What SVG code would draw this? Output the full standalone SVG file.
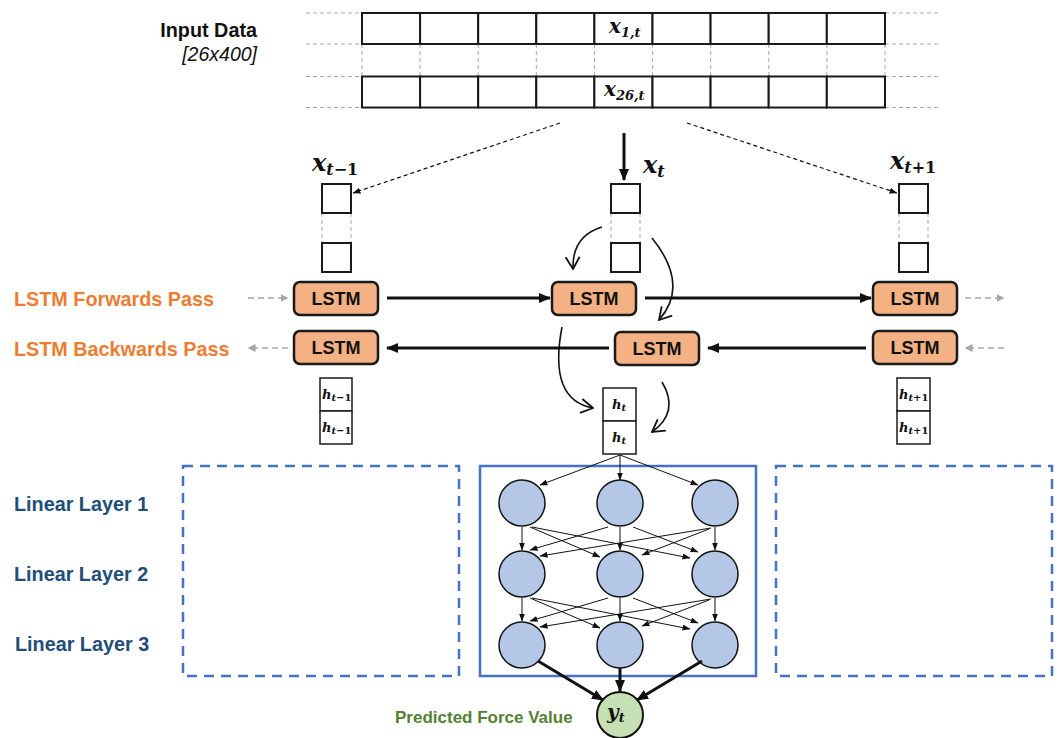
<svg xmlns="http://www.w3.org/2000/svg" width="1059" height="738" viewBox="0 0 1059 738">
  <style>
    .bg{fill:#ffffff}
    .cell{fill:#ffffff;stroke:#1a1a1a;stroke-width:2}
    .guide{stroke:#a6a6a6;stroke-width:1;stroke-dasharray:4 3;fill:none}
    .lstm{fill:#f4b183;stroke:#1a1a1a;stroke-width:2.5}
    .lstmtxt{font-family:"Liberation Sans",Arial,sans-serif;font-weight:bold;font-size:18px;fill:#111;text-anchor:middle}
    .lbl{font-family:"Liberation Sans",Arial,sans-serif;font-weight:bold;font-size:19.8px}
    .orange{fill:#ed7d31}
    .navy{fill:#1f4e79}
    .green{fill:#548235}
    .math{font-family:"DejaVu Serif","Liberation Serif",serif;font-weight:bold;font-style:italic;fill:#111}
    .up{font-style:normal}
    .hbox{fill:#ffffff;stroke:#1a1a1a;stroke-width:1.5}
    .thick{stroke:#111;stroke-width:3;fill:none}
    .thin{stroke:#111;stroke-width:1;fill:none}
    .dashin{stroke:#111;stroke-width:1.2;stroke-dasharray:4 3;fill:none}
    .grey{stroke:#a6a6a6;stroke-width:1.5;stroke-dasharray:6 4;fill:none}
    .curve{stroke:#111;stroke-width:1.6;fill:none}
    .neuron{fill:#b4c7e7;stroke:#111;stroke-width:1.5}
    .panel{fill:none;stroke:#4472c4;stroke-width:2.5}
    .panelDash{fill:none;stroke:#4472c4;stroke-width:2.5;stroke-dasharray:10 7}
  </style>
  <defs>
    <marker id="headBig" viewBox="0 0 12 10" refX="11" refY="5" markerWidth="12" markerHeight="10" markerUnits="userSpaceOnUse" orient="auto">
      <path d="M0,0 L12,5 L0,10 z" fill="#111"/>
    </marker>
    <marker id="headSmall" viewBox="0 0 8 6" refX="7.5" refY="3" markerWidth="8" markerHeight="6" markerUnits="userSpaceOnUse" orient="auto">
      <path d="M0,0 L8,3 L0,6 z" fill="#111"/>
    </marker>
    <marker id="headGrey" viewBox="0 0 8 8" refX="7.5" refY="4" markerWidth="8" markerHeight="8" markerUnits="userSpaceOnUse" orient="auto">
      <path d="M0,0 L8,4 L0,8 z" fill="#a6a6a6"/>
    </marker>
    <marker id="headOpen" viewBox="0 0 14 16" refX="13" refY="8" markerWidth="14" markerHeight="16" markerUnits="userSpaceOnUse" orient="auto">
      <path d="M1,1 L13,8 L1,15" fill="none" stroke="#111" stroke-width="1.8"/>
    </marker>
  </defs>

  <rect class="bg" x="0" y="0" width="1059" height="738"/>

  <!-- input matrix -->
  <g id="input-data">
    <text class="lbl" x="257" y="37" text-anchor="end" fill="#111">Input Data</text>
    <text x="257" y="61" text-anchor="end" font-family="'Liberation Sans',Arial,sans-serif" font-style="italic" font-size="19.5" fill="#111">[26x400]</text>
    <g class="guide">
      <path d="M306,13H362M306,44H362M306,76.5H362M306,107.5H362"/>
      <path d="M885,13H940M885,44H940M885,76.5H940M885,107.5H940"/>
      <path d="M362,44V76.5M420.1,44V76.5M478.2,44V76.5M536.3,44V76.5M594.4,44V76.5M652.6,44V76.5M710.7,44V76.5M768.8,44V76.5M826.9,44V76.5M885,44V76.5"/>
    </g>
    <g class="cell">
      <rect x="362" y="13" width="58.1" height="31"/>
      <rect x="420.1" y="13" width="58.1" height="31"/>
      <rect x="478.2" y="13" width="58.1" height="31"/>
      <rect x="536.3" y="13" width="58.1" height="31"/>
      <rect x="594.4" y="13" width="58.1" height="31"/>
      <rect x="652.5" y="13" width="58.1" height="31"/>
      <rect x="710.6" y="13" width="58.1" height="31"/>
      <rect x="768.7" y="13" width="58.1" height="31"/>
      <rect x="826.8" y="13" width="58.2" height="31"/>
      <rect x="362" y="76.5" width="58.1" height="31"/>
      <rect x="420.1" y="76.5" width="58.1" height="31"/>
      <rect x="478.2" y="76.5" width="58.1" height="31"/>
      <rect x="536.3" y="76.5" width="58.1" height="31"/>
      <rect x="594.4" y="76.5" width="58.1" height="31"/>
      <rect x="652.5" y="76.5" width="58.1" height="31"/>
      <rect x="710.6" y="76.5" width="58.1" height="31"/>
      <rect x="768.7" y="76.5" width="58.1" height="31"/>
      <rect x="826.8" y="76.5" width="58.2" height="31"/>
    </g>
    <text class="math" x="609" y="33" font-size="20">x<tspan font-size="13" dy="4">1,t</tspan></text>
    <text class="math" x="604" y="96" font-size="20">x<tspan font-size="13" dy="4">26,t</tspan></text>
  </g>

  <!-- input vectors per time step -->
  <g id="x-prev">
    <text class="math" x="312" y="171" font-size="24">x<tspan font-size="16" dy="4">t<tspan class="up">−1</tspan></tspan></text>
    <path class="guide" d="M322,213V243M351,213V243"/>
    <rect class="cell" x="322" y="184" width="29" height="29"/>
    <rect class="cell" x="322" y="243" width="29" height="29"/>
  </g>
  <g id="x-curr">
    <text class="math" x="643" y="173" font-size="24">x<tspan font-size="16" dy="4">t</tspan></text>
    <path class="guide" d="M611,213V243M640,213V243"/>
    <rect class="cell" x="611" y="184" width="29" height="29"/>
    <rect class="cell" x="611" y="243" width="29" height="29"/>
  </g>
  <g id="x-next">
    <text class="math" x="890" y="169" font-size="24">x<tspan font-size="16" dy="4">t<tspan class="up">+1</tspan></tspan></text>
    <path class="guide" d="M899,213V243M928,213V243"/>
    <rect class="cell" x="899" y="184" width="29" height="29"/>
    <rect class="cell" x="899" y="243" width="29" height="29"/>
  </g>

  <!-- LSTM cells -->
  <g id="lstm-fwd-prev"><rect class="lstm" x="294" y="282" width="84" height="33" rx="6"/><text class="lstmtxt" x="336" y="305">LSTM</text></g>
  <g id="lstm-bwd-prev"><rect class="lstm" x="294" y="331" width="84" height="33" rx="6"/><text class="lstmtxt" x="336" y="354">LSTM</text></g>
  <g id="lstm-fwd-curr"><rect class="lstm" x="552" y="282" width="84" height="33" rx="6"/><text class="lstmtxt" x="594" y="305">LSTM</text></g>
  <g id="lstm-bwd-curr"><rect class="lstm" x="615" y="332" width="84" height="33" rx="6"/><text class="lstmtxt" x="657" y="355">LSTM</text></g>
  <g id="lstm-fwd-next"><rect class="lstm" x="873" y="282" width="84" height="33" rx="6"/><text class="lstmtxt" x="915" y="305">LSTM</text></g>
  <g id="lstm-bwd-next"><rect class="lstm" x="873" y="331" width="84" height="33" rx="6"/><text class="lstmtxt" x="915" y="354">LSTM</text></g>

  <!-- row labels -->
  <g id="labels">
    <text class="lbl orange" x="14" y="306">LSTM Forwards Pass</text>
    <text class="lbl orange" x="14" y="356">LSTM Backwards Pass</text>
    <text class="lbl navy" x="14" y="511">Linear Layer 1</text>
    <text class="lbl navy" x="14" y="581">Linear Layer 2</text>
    <text class="lbl navy" x="15" y="651">Linear Layer 3</text>
  </g>

  <!-- hidden states -->
  <g id="h-prev">
    <rect class="hbox" x="320" y="378" width="32" height="33"/>
    <rect class="hbox" x="320" y="411" width="32" height="33"/>
    <text class="math" x="322" y="399" font-size="13">h<tspan font-size="10" dy="2">t<tspan class="up">−1</tspan></tspan></text>
    <text class="math" x="322" y="432" font-size="13">h<tspan font-size="10" dy="2">t<tspan class="up">−1</tspan></tspan></text>
  </g>
  <g id="h-curr">
    <rect class="hbox" x="603" y="388" width="33" height="33"/>
    <rect class="hbox" x="603" y="421" width="33" height="33"/>
    <text class="math" x="612" y="409" font-size="13">h<tspan font-size="10" dy="2">t</tspan></text>
    <text class="math" x="612" y="442" font-size="13">h<tspan font-size="10" dy="2">t</tspan></text>
  </g>
  <g id="h-next">
    <rect class="hbox" x="897" y="378" width="33" height="33"/>
    <rect class="hbox" x="897" y="411" width="33" height="33"/>
    <text class="math" x="899" y="399" font-size="13">h<tspan font-size="10" dy="2">t<tspan class="up">+1</tspan></tspan></text>
    <text class="math" x="899" y="432" font-size="13">h<tspan font-size="10" dy="2">t<tspan class="up">+1</tspan></tspan></text>
  </g>

  <!-- dense-layer panels -->
  <g id="panel-prev"><rect class="panelDash" x="183" y="466" width="276" height="210"/></g>
  <g id="panel-curr"><rect class="panel" x="480" y="466" width="276" height="210"/></g>
  <g id="panel-next"><rect class="panelDash" x="776" y="466" width="276" height="210"/></g>

  <!-- neurons -->
  <g id="layer1">
    <circle class="neuron" cx="522" cy="503" r="23"/>
    <circle class="neuron" cx="620" cy="503" r="23"/>
    <circle class="neuron" cx="715" cy="503" r="23"/>
  </g>
  <g id="layer2">
    <circle class="neuron" cx="522" cy="574" r="23"/>
    <circle class="neuron" cx="620" cy="574" r="23"/>
    <circle class="neuron" cx="715" cy="574" r="23"/>
  </g>
  <g id="layer3">
    <circle class="neuron" cx="522" cy="645" r="23"/>
    <circle class="neuron" cx="620" cy="645" r="23"/>
    <circle class="neuron" cx="715" cy="645" r="23"/>
  </g>

  <!-- output -->
  <g id="output">
    <circle cx="620" cy="715" r="23" fill="#c5e0b4" stroke="#111" stroke-width="2"/>
    <text class="math" x="607" y="719" font-size="20" font-weight="normal">y<tspan font-size="13" dy="3">t</tspan></text>
    <text x="395" y="723" font-family="'Liberation Sans',Arial,sans-serif" font-weight="bold" font-size="17" class="green">Predicted Force Value</text>
  </g>

  <!-- connectors -->
  <g id="connectors">
    <!-- input to time steps -->
    <path class="dashin" d="M560,123L353,193" marker-end="url(#headSmall)"/>
    <path class="dashin" d="M687,123L897,193" marker-end="url(#headSmall)"/>
    <path class="thick" d="M624,133V180" marker-end="url(#headBig)"/>

    <!-- recurrent links -->
    <path class="thick" d="M387,298H550" marker-end="url(#headBig)"/>
    <path class="thick" d="M645,298H871" marker-end="url(#headBig)"/>
    <path class="thick" d="M866,348H708" marker-end="url(#headBig)"/>
    <path class="thick" d="M609,348H387" marker-end="url(#headBig)"/>

    <!-- sequence continuation -->
    <path class="grey" d="M248,298H288" marker-end="url(#headGrey)"/>
    <path class="grey" d="M288,348H248" marker-end="url(#headGrey)"/>
    <path class="grey" d="M965,298H1004" marker-end="url(#headGrey)"/>
    <path class="grey" d="M1004,348H965" marker-end="url(#headGrey)"/>

    <!-- input and hidden-state flow at step t -->
    <path class="curve" d="M602,227Q572,236 573,269" marker-end="url(#headOpen)"/>
    <path class="curve" d="M652,238Q690,285 659,320" marker-end="url(#headOpen)"/>
    <path class="curve" d="M562,327Q548,400 593,408" marker-end="url(#headOpen)"/>
    <path class="curve" d="M662,382Q680,412 652,432" marker-end="url(#headOpen)"/>

    <!-- hidden state to first layer -->
    <path class="thin" d="M620,455L540,485" marker-end="url(#headSmall)"/>
    <path class="thin" d="M620,455V480" marker-end="url(#headSmall)"/>
    <path class="thin" d="M620,455L698,485" marker-end="url(#headSmall)"/>

    <!-- layer 1 to layer 2 -->
    <path class="thin" d="M522,527V550" marker-end="url(#headSmall)"/>
    <path class="thin" d="M530,527L600,557" marker-end="url(#headSmall)"/>
    <path class="thin" d="M532,527L690,558" marker-end="url(#headSmall)"/>
    <path class="thin" d="M620,527V550" marker-end="url(#headSmall)"/>
    <path class="thin" d="M608,527L530,550" marker-end="url(#headSmall)"/>
    <path class="thin" d="M633,527L698,552" marker-end="url(#headSmall)"/>
    <path class="thin" d="M715,527V550" marker-end="url(#headSmall)"/>
    <path class="thin" d="M711,528L540,556" marker-end="url(#headSmall)"/>
    <path class="thin" d="M709,529L642,555" marker-end="url(#headSmall)"/>

    <!-- layer 2 to layer 3 -->
    <path class="thin" d="M522,598V621" marker-end="url(#headSmall)"/>
    <path class="thin" d="M530,598L600,628" marker-end="url(#headSmall)"/>
    <path class="thin" d="M532,598L690,629" marker-end="url(#headSmall)"/>
    <path class="thin" d="M620,598V621" marker-end="url(#headSmall)"/>
    <path class="thin" d="M608,598L530,621" marker-end="url(#headSmall)"/>
    <path class="thin" d="M633,598L698,623" marker-end="url(#headSmall)"/>
    <path class="thin" d="M715,598V621" marker-end="url(#headSmall)"/>
    <path class="thin" d="M711,599L540,627" marker-end="url(#headSmall)"/>
    <path class="thin" d="M709,600L642,626" marker-end="url(#headSmall)"/>

    <!-- layer 3 to output -->
    <path class="thick" d="M538,661L603,700" marker-end="url(#headBig)"/>
    <path class="thick" d="M620,668V691" marker-end="url(#headBig)"/>
    <path class="thick" d="M702,661L637,700" marker-end="url(#headBig)"/>
  </g>
</svg>
